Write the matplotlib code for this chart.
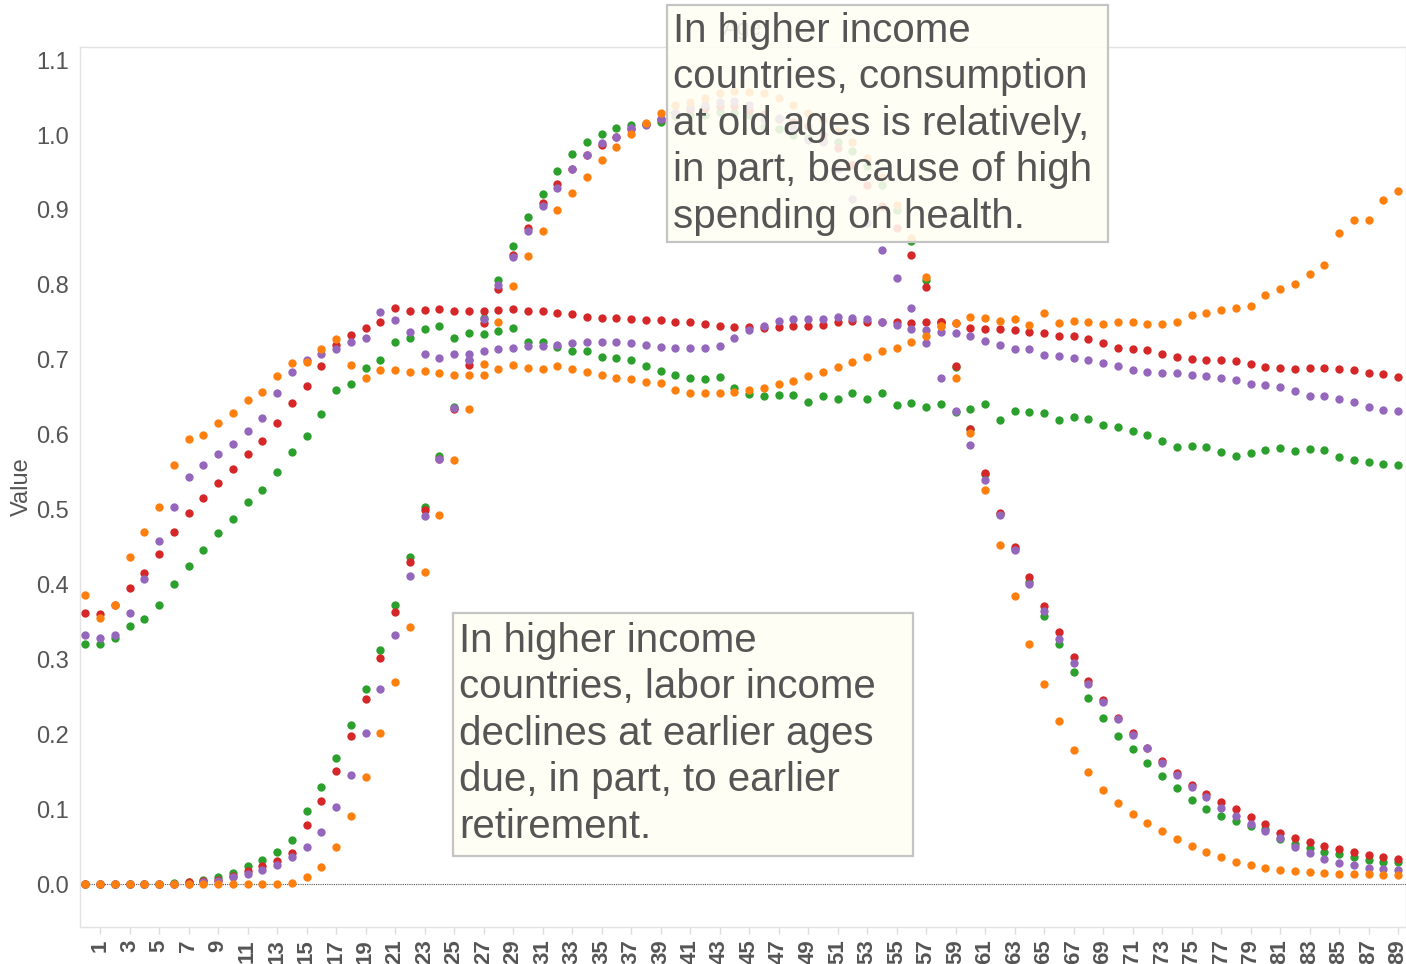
import matplotlib
matplotlib.use("Agg")
import matplotlib.pyplot as plt
from matplotlib.patches import Rectangle

plt.rcParams['font.family'] = ['Liberation Sans', 'DejaVu Sans']

ages = list(range(90))
tick_ages = list(range(1, 90, 2))
tick_labels = [str(a) for a in tick_ages]

# Consumption profiles
red_cons = [0.362, 0.361, 0.372, 0.395, 0.415, 0.441, 0.470, 0.496, 0.515, 0.535,
            0.554, 0.574, 0.592, 0.615, 0.642, 0.665, 0.691, 0.719, 0.733, 0.743,
            0.751, 0.769, 0.765, 0.766, 0.768, 0.765, 0.765, 0.765, 0.767, 0.768,
            0.765, 0.765, 0.763, 0.761, 0.757, 0.756, 0.756, 0.755, 0.753, 0.753,
            0.751, 0.750, 0.748, 0.745, 0.744, 0.744, 0.743, 0.744, 0.745, 0.745,
            0.747, 0.750, 0.752, 0.751, 0.751, 0.750, 0.749, 0.750, 0.750, 0.749,
            0.743, 0.741, 0.741, 0.739, 0.737, 0.735, 0.732, 0.732, 0.728, 0.722,
            0.716, 0.714, 0.713, 0.708, 0.704, 0.701, 0.699, 0.700, 0.698, 0.694,
            0.690, 0.689, 0.688, 0.689, 0.689, 0.688, 0.686, 0.682, 0.681, 0.677]
orange_cons = [0.386, 0.355, 0.373, 0.437, 0.470, 0.503, 0.559, 0.594, 0.600, 0.615,
               0.629, 0.646, 0.657, 0.678, 0.696, 0.697, 0.714, 0.727, 0.693, 0.676,
               0.686, 0.686, 0.684, 0.685, 0.682, 0.680, 0.680, 0.679, 0.688, 0.693,
               0.689, 0.688, 0.692, 0.688, 0.684, 0.680, 0.676, 0.674, 0.670, 0.669,
               0.660, 0.656, 0.655, 0.656, 0.657, 0.660, 0.662, 0.668, 0.672, 0.678,
               0.684, 0.690, 0.697, 0.704, 0.712, 0.716, 0.724, 0.732, 0.745, 0.749,
               0.757, 0.756, 0.752, 0.754, 0.746, 0.763, 0.749, 0.752, 0.751, 0.748,
               0.750, 0.751, 0.748, 0.748, 0.751, 0.760, 0.763, 0.766, 0.769, 0.772,
               0.786, 0.794, 0.801, 0.814, 0.826, 0.869, 0.886, 0.886, 0.913, 0.925]
green_cons = [0.321, 0.320, 0.329, 0.344, 0.354, 0.373, 0.400, 0.424, 0.446, 0.469,
              0.487, 0.510, 0.526, 0.550, 0.577, 0.598, 0.627, 0.660, 0.667, 0.689,
              0.699, 0.723, 0.729, 0.741, 0.745, 0.729, 0.736, 0.734, 0.738, 0.742,
              0.723, 0.723, 0.717, 0.711, 0.711, 0.704, 0.702, 0.699, 0.692, 0.685,
              0.679, 0.675, 0.674, 0.677, 0.662, 0.654, 0.651, 0.653, 0.653, 0.643,
              0.651, 0.648, 0.655, 0.648, 0.656, 0.639, 0.642, 0.637, 0.641, 0.630,
              0.634, 0.641, 0.620, 0.632, 0.630, 0.629, 0.619, 0.623, 0.621, 0.613,
              0.610, 0.605, 0.600, 0.592, 0.584, 0.585, 0.583, 0.577, 0.572, 0.576,
              0.579, 0.582, 0.578, 0.581, 0.579, 0.570, 0.566, 0.563, 0.561, 0.559]
purple_cons = [0.332, 0.328, 0.332, 0.362, 0.407, 0.458, 0.503, 0.544, 0.560, 0.574,
               0.588, 0.605, 0.622, 0.655, 0.683, 0.700, 0.708, 0.714, 0.723, 0.729,
               0.764, 0.753, 0.737, 0.708, 0.702, 0.708, 0.708, 0.712, 0.714, 0.716,
               0.718, 0.718, 0.720, 0.722, 0.723, 0.723, 0.723, 0.722, 0.720, 0.717,
               0.716, 0.716, 0.715, 0.718, 0.729, 0.740, 0.745, 0.752, 0.754, 0.754,
               0.755, 0.757, 0.756, 0.754, 0.751, 0.746, 0.741, 0.740, 0.737, 0.735,
               0.732, 0.725, 0.720, 0.714, 0.714, 0.706, 0.705, 0.702, 0.699, 0.695,
               0.692, 0.686, 0.683, 0.682, 0.682, 0.680, 0.678, 0.675, 0.673, 0.668,
               0.666, 0.664, 0.658, 0.652, 0.652, 0.648, 0.643, 0.637, 0.633, 0.631]

# Labor income profiles
red_labor = [0.0, 0.0, 0.0, 0.0, 0.0, 0.0, 0.0, 0.003, 0.004, 0.006,
             0.011, 0.017, 0.024, 0.031, 0.042, 0.079, 0.111, 0.151, 0.197, 0.247,
             0.302, 0.363, 0.430, 0.500, 0.568, 0.634, 0.693, 0.749, 0.795, 0.840,
             0.876, 0.909, 0.934, 0.955, 0.973, 0.987, 0.998, 1.008, 1.015, 1.022,
             1.030, 1.035, 1.036, 1.039, 1.039, 1.033, 1.028, 1.022, 1.018, 1.012,
             1.000, 0.982, 0.960, 0.933, 0.905, 0.876, 0.840, 0.797, 0.750, 0.692,
             0.607, 0.549, 0.496, 0.450, 0.410, 0.371, 0.336, 0.303, 0.271, 0.246,
             0.222, 0.201, 0.182, 0.164, 0.148, 0.132, 0.120, 0.110, 0.100, 0.090,
             0.080, 0.068, 0.061, 0.056, 0.051, 0.047, 0.043, 0.039, 0.036, 0.034]
orange_labor = [0.0, 0.0, 0.0, 0.0, 0.0, 0.0, 0.0, 0.0, 0.0, 0.0,
                0.0, 0.0, 0.0, 0.0, 0.002, 0.009, 0.023, 0.049, 0.091, 0.143,
                0.202, 0.270, 0.343, 0.417, 0.493, 0.566, 0.634, 0.694, 0.750, 0.798,
                0.838, 0.872, 0.900, 0.922, 0.944, 0.967, 0.984, 1.001, 1.016, 1.030,
                1.040, 1.044, 1.050, 1.056, 1.059, 1.058, 1.056, 1.050, 1.040, 1.030,
                1.020, 1.005, 0.990, 0.969, 0.944, 0.907, 0.862, 0.810, 0.745, 0.675,
                0.602, 0.526, 0.452, 0.384, 0.320, 0.267, 0.218, 0.179, 0.149, 0.126,
                0.108, 0.094, 0.081, 0.071, 0.060, 0.051, 0.043, 0.036, 0.030, 0.025,
                0.021, 0.019, 0.018, 0.016, 0.015, 0.014, 0.014, 0.013, 0.012, 0.012]
green_labor = [0.0, 0.0, 0.0, 0.0, 0.0, 0.0, 0.002, 0.003, 0.006, 0.009,
               0.015, 0.024, 0.032, 0.043, 0.059, 0.097, 0.130, 0.168, 0.212, 0.260,
               0.312, 0.372, 0.437, 0.504, 0.571, 0.637, 0.700, 0.756, 0.806, 0.852,
               0.890, 0.921, 0.952, 0.975, 0.991, 1.002, 1.009, 1.013, 1.015, 1.018,
               1.025, 1.027, 1.027, 1.031, 1.029, 1.027, 1.011, 1.008, 1.000, 0.996,
               0.993, 0.991, 0.979, 0.958, 0.933, 0.900, 0.858, 0.806, 0.750, 0.690,
               0.608, 0.547, 0.494, 0.447, 0.403, 0.358, 0.320, 0.283, 0.249, 0.221,
               0.198, 0.180, 0.162, 0.144, 0.128, 0.112, 0.100, 0.091, 0.084, 0.077,
               0.073, 0.060, 0.054, 0.048, 0.043, 0.040, 0.036, 0.032, 0.030, 0.029]
purple_labor = [0.0, 0.0, 0.0, 0.0, 0.0, 0.0, 0.0, 0.0, 0.003, 0.004,
                0.009, 0.013, 0.019, 0.026, 0.036, 0.050, 0.069, 0.103, 0.146, 0.201,
                0.260, 0.332, 0.411, 0.491, 0.567, 0.636, 0.699, 0.754, 0.800, 0.837,
                0.872, 0.905, 0.929, 0.955, 0.973, 0.989, 0.997, 1.009, 1.013, 1.022,
                1.030, 1.038, 1.040, 1.044, 1.045, 1.040, 1.022, 1.023, 1.010, 0.993,
                0.991, 0.955, 0.915, 0.882, 0.847, 0.809, 0.769, 0.722, 0.675, 0.632,
                0.586, 0.540, 0.493, 0.446, 0.401, 0.364, 0.327, 0.295, 0.267, 0.243,
                0.220, 0.199, 0.181, 0.162, 0.146, 0.129, 0.116, 0.102, 0.091, 0.080,
                0.071, 0.061, 0.050, 0.041, 0.033, 0.028, 0.025, 0.022, 0.020, 0.019]

colors = {'green': '#2ca02c', 'red': '#d62728', 'purple': '#9467bd', 'orange': '#ff7f0e'}
series = [
    ('green', green_cons, green_labor),
    ('red', red_cons, red_labor),
    ('purple', purple_cons, purple_labor),
    ('orange', orange_cons, orange_labor),
]

W, H = 1406, 964
fig = plt.figure(figsize=(W / 100, H / 100), dpi=100)
fig.patch.set_facecolor('white')

def fx(px):
    return px / W

def fy(py):
    return 1 - py / H

ax = fig.add_axes([fx(80), fy(927), fx(1406) - fx(80), fy(47) - fy(927)])
ax.set_xlim(-0.36, 89.54)
ax.set_ylim(-0.0574, 1.1175)

ax.axhline(0, color='#555555', linestyle=(0, (1, 1)), linewidth=0.8, zorder=1)

for i, (name, cons, labor) in enumerate(series):
    c = colors[name]
    ax.scatter(ages, cons, s=36, color=c, linewidths=0, zorder=3 + i)
    ax.scatter(ages, labor, s=36, color=c, linewidths=0, zorder=3 + i)

ax.set_yticks([0.0, 0.1, 0.2, 0.3, 0.4, 0.5, 0.6, 0.7, 0.8, 0.9, 1.0, 1.1])
ax.set_yticklabels(['0.0', '0.1', '0.2', '0.3', '0.4', '0.5', '0.6', '0.7', '0.8', '0.9', '1.0', '1.1'])
ax.tick_params(axis='y', length=0, pad=8, labelsize=17, labelcolor='#555555')
ax.set_xticks(tick_ages)
ax.set_xticklabels(tick_labels, rotation=90)
ax.tick_params(axis='x', length=5, width=1, color='#dddddd', pad=4,
               labelsize=16, labelcolor='#555555')
for lab in ax.get_xticklabels():
    lab.set_fontweight('bold')

for sp in ax.spines.values():
    sp.set_color('#e2e2e2')
    sp.set_linewidth(1)

ax.set_ylabel('Value', fontsize=17, color='#555555', labelpad=2)

# Axis title at top (partly hidden behind the annotation)
fig.text(fx(743), fy(30), 'Age', fontsize=16, color='#555555', ha='center', va='center', zorder=1)

# Annotation boxes
def note(x0, y0, x1, y1, text, off):
    rect = Rectangle((fx(x0), fy(y1)), fx(x1) - fx(x0), fy(y0) - fy(y1),
                     transform=fig.transFigure, facecolor='#fffef4', alpha=0.88,
                     edgecolor='none', zorder=10)
    fig.add_artist(rect)
    border = Rectangle((fx(x0), fy(y1)), fx(x1) - fx(x0), fy(y0) - fy(y1),
                       transform=fig.transFigure, facecolor='none',
                       edgecolor='#c4c4c4', linewidth=1.6, zorder=11)
    fig.add_artist(border)
    fig.text(fx(x0 + 6), fy(y0 + off), text, fontsize=29, color='#555555',
             ha='left', va='top', linespacing=1.28, zorder=12)

note(667, 5, 1108, 242,
     'In higher income\ncountries, consumption\nat old ages is relatively,\nin part, because of high\nspending on health.', 7)
note(453, 613, 913, 856,
     'In higher income\ncountries, labor income\ndeclines at earlier ages\ndue, in part, to earlier\nretirement.', 9)

fig.savefig('out.png', dpi=100, facecolor='white')
